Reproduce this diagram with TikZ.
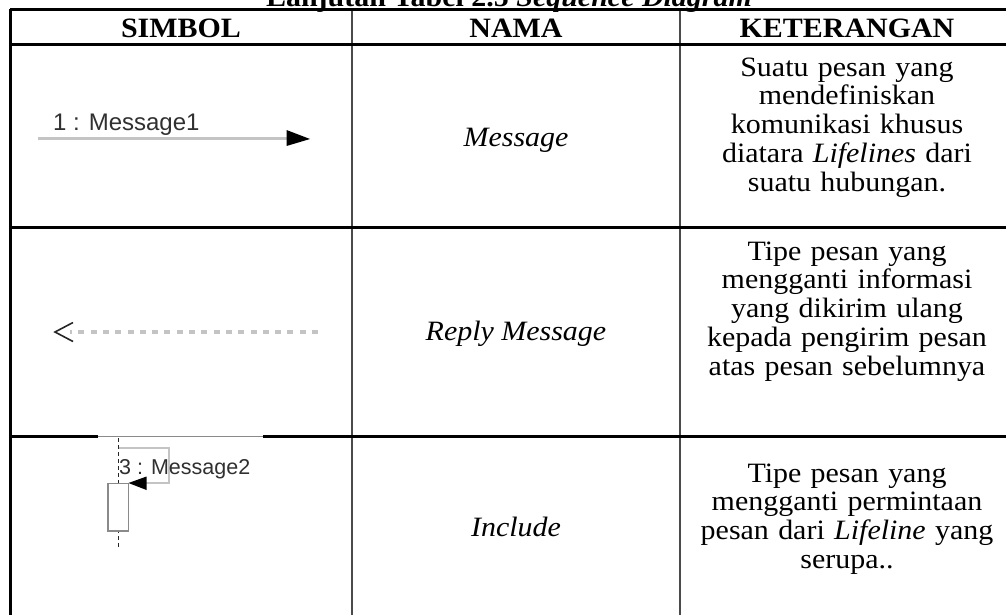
\documentclass[tikz,border=0pt]{standalone}
\usepackage{fontspec}
\setmainfont{Liberation Serif}[FakeStretch=1.07]
\newfontfamily\symfont{Liberation Sans}
\usetikzlibrary{arrows.meta}
\definecolor{linegray}{HTML}{C4C4C4}
\definecolor{boxgray}{HTML}{8A8A8A}
\definecolor{sepgray}{HTML}{4A4A4A}
\definecolor{labelgray}{HTML}{303030}
\begin{document}
\begin{tikzpicture}[x=1pt,y=-1pt,
  body/.style={font=\fontsize{28}{28.9}\selectfont, align=center, inner sep=0pt},
  bodybox/.style={body, text width=330pt},
  head/.style={font=\fontsize{28}{28.9}\selectfont\bfseries, inner sep=0pt},
  rulethick/.style={line width=3pt, black},
  rulethin/.style={line width=1pt, boxgray},
  vsep/.style={line width=2pt, sepgray},
  umltext/.style={font=\symfont, text=labelgray, inner sep=0pt},
  msgline/.style={line width=3pt, linegray},
  replyline/.style={line width=4pt, linegray, dash pattern=on 6pt off 6.3pt},
  headfill/.style={fill=black},
  barb/.style={line width=1.6pt, black!85, line join=miter},
  lifeline/.style={line width=1.2pt, black!85, dash pattern=on 4pt off 3pt},
  actbox/.style={line width=1.6pt, boxgray, fill=white},
  selfmsg/.style={line width=2pt, linegray},
]
\useasboundingbox (0,0) rectangle (1006,614);
\begin{scope}
\clip (0,0) rectangle (1006,614);
% title (cut off at the top)
\node[head, anchor=base] (title) at (509,6) {Lanjutan Tabel 2.5 \textit{Sequence Diagram}};

% table rules
\coordinate (tl) at (10,9);   \coordinate (tr) at (1010,9);
\coordinate (hl) at (10,44.5); \coordinate (hr) at (1010,44.5);
\coordinate (r1l) at (10,227); \coordinate (r1r) at (1010,227);
\coordinate (r2l) at (10,436); \coordinate (r2a) at (98,436);
\coordinate (r2b) at (263,436); \coordinate (r2r) at (1010,436);
\coordinate (bl) at (10,620);
\coordinate (c1t) at (352,9); \coordinate (c1b) at (352,620);
\coordinate (c2t) at (680,9); \coordinate (c2b) at (680,620);
\draw[vsep] (c1t) -- (c1b);
\draw[vsep] (c2t) -- (c2b);
\draw[rulethick] (tl) -- (tr);
\draw[rulethick] (hl) -- (hr);
\draw[rulethick] (r1l) -- (r1r);
\draw[rulethick] (r2l) -- (r2a);
\draw[rulethin] (r2a) -- (r2b);
\draw[rulethick] (r2b) -- (r2r);
\draw[rulethick] (tl) -- (bl);

% header
\node[head, anchor=base] (hsimbol) at (181,37) {SIMBOL};
\node[head, anchor=base] (hnama) at (516,37) {NAMA};
\node[head, anchor=base] (hket) at (847,37) {KETERANGAN};

% row 1
\node[umltext, font=\symfont\fontsize{24}{24}\selectfont, anchor=base west] (m1label) at (53,130) {1 : Message1};
\coordinate (m1s) at (38,138.5);
\coordinate (m1e) at (288,138.5);
\coordinate (m1h1) at (286.5,130);
\coordinate (m1tip) at (310,139);
\coordinate (m1h2) at (286.5,146);
\draw[msgline] (m1s) -- (m1e);
\fill[headfill] (m1h1) -- (m1tip) -- (m1h2) -- cycle;
\node[body, anchor=base] (n1) at (516,146) {\textit{Message}};
\node[bodybox, anchor=base] (k1) at (847,76) {Suatu pesan yang\\ mendefiniskan\\ komunikasi khusus\\ diatara \textit{Lifelines} dari\\ suatu hubungan.};

% row 2
\coordinate (rps) at (318,332);
\coordinate (rpe) at (70,332);
\coordinate (rpa1) at (73,322.5);
\coordinate (rptip) at (55,332);
\coordinate (rpa2) at (73,341.5);
\draw[replyline] (rps) -- (rpe);
\draw[barb] (rpa1) -- (rptip) -- (rpa2);
\node[body, anchor=base] (n2) at (516,340) {\textit{Reply Message}};
\node[bodybox, anchor=base] (k2) at (847,260) {Tipe pesan yang\\ mengganti informasi\\ yang dikirim ulang\\ kepada pengirim pesan\\ atas pesan sebelumnya};

% row 3
\coordinate (llt) at (118.7,438);
\coordinate (llb) at (118.7,548);
\draw[lifeline] (llt) -- (llb);
\coordinate (sm0) at (118.7,448);
\coordinate (sm1) at (169,448);
\coordinate (sm2) at (169,483);
\coordinate (sm3) at (140,483);
\draw[selfmsg] (sm0) -- (sm1) -- (sm2) -- (sm3);
\node[umltext, font=\symfont\fontsize{21.5}{21.5}\selectfont, anchor=base west] (m2label) at (119,474) {3 : Message2};
\coordinate (act1) at (108,483.5);
\coordinate (act2) at (128.3,531);
\draw[actbox] (act1) rectangle (act2);
\coordinate (sh1) at (146.5,476.5);
\coordinate (shtip) at (128.5,483);
\coordinate (sh2) at (146.5,490);
\fill[headfill] (sh1) -- (shtip) -- (sh2) -- cycle;
\node[body, anchor=base] (n3) at (516,536) {\textit{Include}};
\node[bodybox, anchor=base] (k3) at (847,482) {Tipe pesan yang\\ mengganti permintaan\\ pesan dari \textit{Lifeline} yang\\ serupa..};
\end{scope}
\end{tikzpicture}
\end{document}
